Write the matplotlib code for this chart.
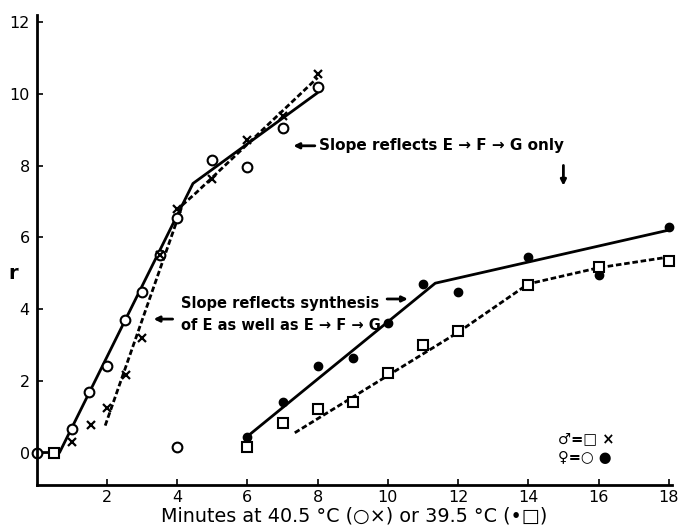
import matplotlib.pyplot as plt

# ============================================================
# Data
# ============================================================

# 40.5 C, females (open circles) and males (crosses)
f405_x = [0, 1, 1.5, 2, 2.5, 3, 3.5, 4, 5, 6, 7, 8, 4]
f405_y = [0, 0.65, 1.7, 2.42, 3.7, 4.47, 5.5, 6.53, 8.15, 7.95, 9.06, 10.2, 0.14]
m405_x = [1, 1.55, 2, 2.53, 3, 3.5, 4, 5, 6, 7, 8]
m405_y = [0.3, 0.78, 1.25, 2.17, 3.19, 5.5, 6.8, 7.63, 8.7, 9.39, 10.56]

# 39.5 C, females (filled dots) and males (open squares)
f395_x = [6, 7, 8, 9, 10, 11, 12, 14, 16, 18]
f395_y = [0.44, 1.42, 2.4, 2.64, 3.6, 4.7, 4.47, 5.44, 4.95, 6.28]
m395_x = [0.5, 6, 7, 8, 9, 10, 11, 12, 14, 16, 18]
m395_y = [0, 0.14, 0.83, 1.22, 1.42, 2.22, 3.0, 3.39, 4.67, 5.17, 5.33]

# fitted broken lines
fit_f405_x = [0, 0.65, 4.45, 8.0]
fit_f405_y = [0, 0, 7.5, 10.03]
fit_m405_x = [1.95, 4.15, 4.55, 8.0]
fit_m405_y = [0.75, 6.9, 7.25, 10.45]
fit_f395_x = [6, 11.35, 18]
fit_f395_y = [0.45, 4.72, 6.2]
fit_m395_x = [7.35, 12, 14, 16, 18]
fit_m395_y = [0.55, 3.35, 4.7, 5.15, 5.45]

xticks = [2, 4, 6, 8, 10, 12, 14, 16, 18]
yticks = [0, 2, 4, 6, 8, 10, 12]

# ============================================================
# Figure
# ============================================================

plt.rcParams["font.family"] = ["DejaVu Sans"]

fig = plt.figure(figsize=(6.8, 5.31), dpi=100)
ax = fig.add_axes([0.054, 0.087, 0.9346, 0.885])

ax.plot(fit_f405_x, fit_f405_y, color="black", lw=2, solid_capstyle="round")
ax.plot(fit_m405_x, fit_m405_y, color="black", lw=2, ls=(0, (2, 1)))
ax.plot(fit_f395_x, fit_f395_y, color="black", lw=2, solid_capstyle="round")
ax.plot(fit_m395_x, fit_m395_y, color="black", lw=2, ls=(0, (2, 1)))

ax.plot(f405_x, f405_y, ls="none", marker="o", ms=7, mfc="white",
        mec="black", mew=1.5, clip_on=False)
ax.plot(m405_x, m405_y, ls="none", marker="x", ms=6, mec="black", mew=1.6)
ax.plot(f395_x, f395_y, ls="none", marker="o", ms=6, mfc="black",
        mec="black", clip_on=False)
ax.plot(m395_x, m395_y, ls="none", marker="s", ms=7, mfc="white",
        mec="black", mew=1.5, clip_on=False)

ax.set_xlim(0, 18.1)
ax.set_ylim(-0.9, 12.2)
ax.set_xticks(xticks)
ax.set_yticks(yticks)
ax.tick_params(direction="in", length=4, width=1.2, labelsize=11.5)
ax.tick_params(axis="y", pad=5)
ax.spines["top"].set_visible(False)
ax.spines["right"].set_visible(False)
ax.spines["left"].set_linewidth(2)
ax.spines["bottom"].set_linewidth(2)

ax.set_xlabel("Minutes at 40.5 °C (○×) or 39.5 °C (•□)", fontsize=13.8,
              labelpad=1)
fig.text(0.012, 0.475, "r", fontsize=14, fontweight="bold")

arrow = dict(arrowstyle="-|>", color="black", lw=2, mutation_scale=8)

# annotations
ax.annotate("", xy=(7.23, 8.55), xytext=(8.0, 8.55), arrowprops=arrow)
ax.text(8.05, 8.55, "Slope reflects E → F → G only", fontsize=11,
        fontweight="bold", va="center")
ax.annotate("", xy=(15.0, 7.36), xytext=(15.0, 8.08), arrowprops=arrow)

ax.text(4.1, 3.85, "Slope reflects synthesis\nof E as well as E → F → G",
        fontsize=10.5, fontweight="bold", va="center", linespacing=1.6)
ax.annotate("", xy=(3.25, 3.72), xytext=(3.95, 3.72), arrowprops=arrow)
ax.annotate("", xy=(10.65, 4.28), xytext=(9.9, 4.28), arrowprops=arrow)

ax.text(14.85, 0.12, "♂=□ ×\n♀=○ ●", fontsize=10.5, fontweight="bold",
        va="center", linespacing=1.3)

fig.savefig("out.png", dpi=100)
